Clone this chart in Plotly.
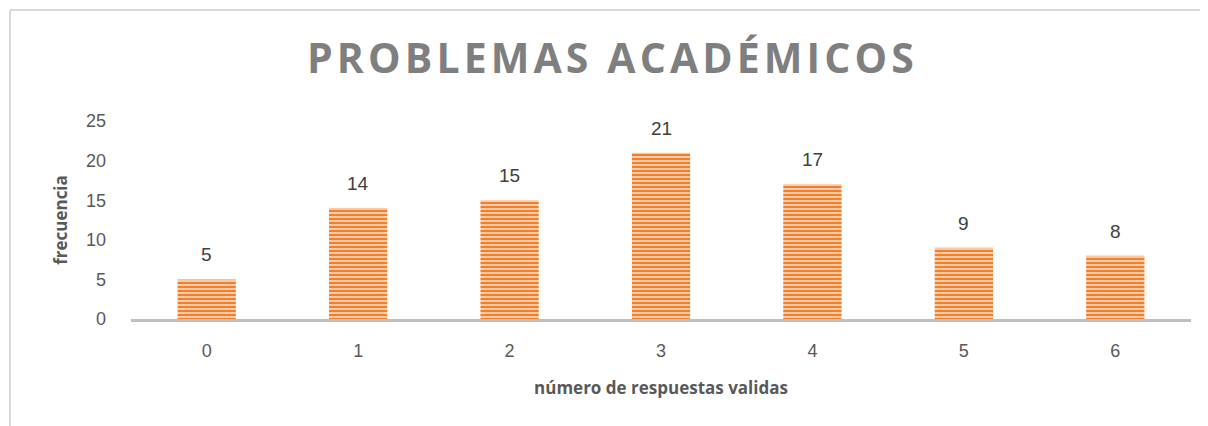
import plotly.graph_objects as go

categorias = ["0", "1", "2", "3", "4", "5", "6"]
frecuencia = [5, 14, 15, 21, 17, 9, 8]
titulo = "PROBLEMAS ACADÉMICOS"

fig = go.Figure()
fig.add_trace(go.Bar(
    x=categorias, y=frecuencia,
    width=0.385,
    marker=dict(color="#F9CBA6",
                line=dict(width=0),
                pattern=dict(shape="-", fgcolor="#F07F2E", bgcolor="#F9D2B3",
                             size=4, solidity=0.55, fillmode="replace")),
))

# etiquetas de datos
for c, v in zip(categorias, frecuencia):
    fig.add_annotation(x=c, y=v, text=str(v), showarrow=False,
                       yanchor="bottom", yshift=12,
                       font=dict(size=19, color="#404040", family="Liberation Sans"))

fig.update_layout(
    width=1200, height=418,
    margin=dict(l=123, r=17, t=113, b=107, autoexpand=False),
    paper_bgcolor="white", plot_bgcolor="white",
    showlegend=False, bargap=0.6,
    title=dict(text="<b>" + "\u200a".join(titulo) + "</b>", x=0.502, xref="container",
               xanchor="center", y=0.88, yref="container", yanchor="middle",
               font=dict(size=41, color="#7F7F7F", family="Open Sans")),
    font=dict(family="Liberation Sans", color="#595959"),
)
fig.update_xaxes(
    showline=True, linecolor="#BFBFBF", linewidth=3, ticks="", automargin=False,
    tickfont=dict(size=18, color="#595959"), ticklabelstandoff=13,
    title=dict(text="<b>número de respuestas validas</b>", standoff=23,
               font=dict(size=17, color="#595959", family="Open Sans")),
)
fig.update_yaxes(
    range=[0, 25], dtick=5, showgrid=False, zeroline=False, showline=False,
    automargin=False,
    tickfont=dict(size=18, color="#595959"), ticklabelstandoff=24,
    title=dict(text="<b>frecuencia</b>", standoff=14,
               font=dict(size=17, color="#595959", family="Open Sans")),
)
# marco del gráfico (bordes superior e izquierdo)
x_izq = -121 / 1060
y_sup = 1 + 111 / 198
fig.add_shape(type="line", xref="paper", yref="paper",
              x0=x_izq, x1=1.2, y0=y_sup, y1=y_sup,
              line=dict(color="#D9D9D9", width=2), layer="below")
fig.add_shape(type="line", xref="paper", yref="paper",
              x0=x_izq, x1=x_izq, y0=-0.7, y1=y_sup,
              line=dict(color="#D9D9D9", width=2), layer="below")

fig.write_html("out.html")
